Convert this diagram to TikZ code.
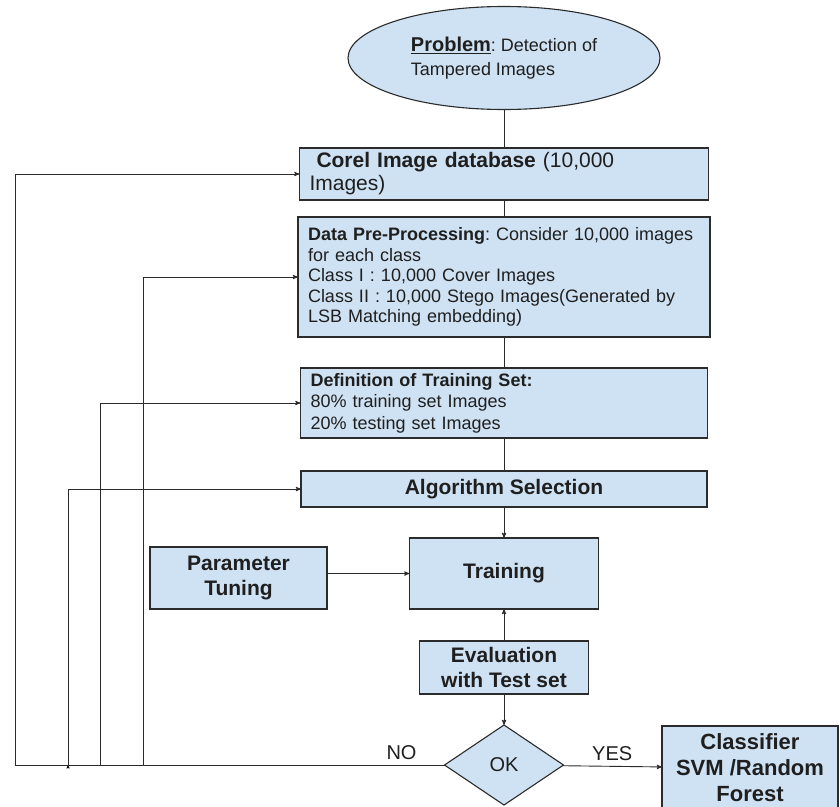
\documentclass[tikz,border=0pt]{standalone}
\usepackage{fontspec}
\setmainfont{Liberation Sans}
\frenchspacing
\usepackage{tikz}
\usetikzlibrary{shapes.geometric, positioning, arrows}
\definecolor{boxblue}{HTML}{CFE2F3}
\definecolor{linegray}{HTML}{2B2B2B}
\definecolor{ink}{HTML}{1F1F1F}
\tikzset{
->, % every connector gets a head unless told otherwise
>=stealth', % small sharp heads as in the drawing
every edge/.style={draw, line width=0.9pt, linegray}, % thin connectors
box/.style={draw=linegray, fill=boxblue, line width=1.1pt, outer sep=0pt, text=ink, inner xsep=10pt, inner ysep=0pt}, % light blue process box
textbox/.style={box, align=left, font=\fontsize{18}{20.5}\selectfont}, % box with left set text
titlebox/.style={box, align=center, font=\bfseries\fontsize{21}{24.5}\selectfont}, % box with a bold title
lbl/.style={text=ink, font=\fontsize{20}{24}\selectfont}, % YES / NO
}

\begin{document}
\begin{tikzpicture}[x=1pt, y=-1pt]
            \useasboundingbox (0,0) rectangle (840,806);
            \node[box, ellipse, align=left, inner xsep=0pt, minimum width=312pt, minimum height=103pt, font=\fontsize{18}{24}\selectfont] (prob) at (504,58)
                {{\fontsize{20}{24}\selectfont\bfseries\underline{Problem}}: Detection of\\Tampered Images};
            \node[textbox, below=38.5pt of prob, font=\fontsize{21}{23}\selectfont, minimum width=409pt, text width=389pt, minimum height=52pt] (corel)
                {\ \textbf{Corel Image database} (10,000\\Images)};
            \node[textbox, below=17pt of corel, minimum width=412pt, text width=392pt, minimum height=120pt] (data)
                {\textbf{Data Pre-Processing}: Consider 10,000 images\\for each class\\Class I : 10,000 Cover Images\\Class II : 10,000 Stego Images(Generated by\\LSB Matching embedding)};
            \node[textbox, below=31pt of data, font=\fontsize{18}{21.5}\selectfont, minimum width=407pt, text width=387pt, minimum height=70pt] (def)
                {\textbf{Definition of Training Set:}\\80\% training set Images\\20\% testing set Images};
            \node[titlebox, below=33pt of def, minimum width=406pt, minimum height=36pt] (algo) {Algorithm Selection};
            \node[titlebox, below=31pt of algo, minimum width=189pt, minimum height=71pt] (train) {Training};
            \node[titlebox, minimum width=177pt, minimum height=62pt] (param) at (238.5,578) {Parameter\\Tuning};
            \node[titlebox, below=32pt of train, minimum width=169pt, minimum height=53pt] (eval) {Evaluation\\with Test set};
            \node[box, diamond, below=31pt of eval, inner sep=0pt, minimum width=119pt, minimum height=80pt, font=\fontsize{20}{24}\selectfont] (ok) {OK};
            \node[titlebox, minimum width=176pt, minimum height=84pt, font=\bfseries\fontsize{22}{26}\selectfont] (cls) at (750,768) {Classifier\\SVM /Random\\Forest};

            \coordinate (fb1) at (15,765);
            \coordinate (fb2) at (68,765);
            \coordinate (fb3) at (100,765);
            \coordinate (fb4) at (143,765);

            \draw
                (prob) edge[-] (corel)
                (corel) edge[-] (data)
                (data) edge[-] (def)
                (def) edge[-] (algo)
                (algo) edge (train)
                (param.east |- train) edge (train)
                (eval) edge (train)
                (eval) edge (ok)
                (ok) edge node[lbl, above=2pt]{YES} (cls)

                (ok) edge[-] node[lbl, above=2pt, pos=0.1]{NO} (fb1)
                (fb1) edge[to path={|- (\tikztotarget)}] (corel.west)
                (fb4) edge[to path={|- (\tikztotarget)}] (data.west)
                (fb3) edge[to path={|- (\tikztotarget)}] (def.west)
                (fb2) edge[to path={|- (\tikztotarget)}] (algo.west)
                ;
        \end{tikzpicture}
\end{document}
